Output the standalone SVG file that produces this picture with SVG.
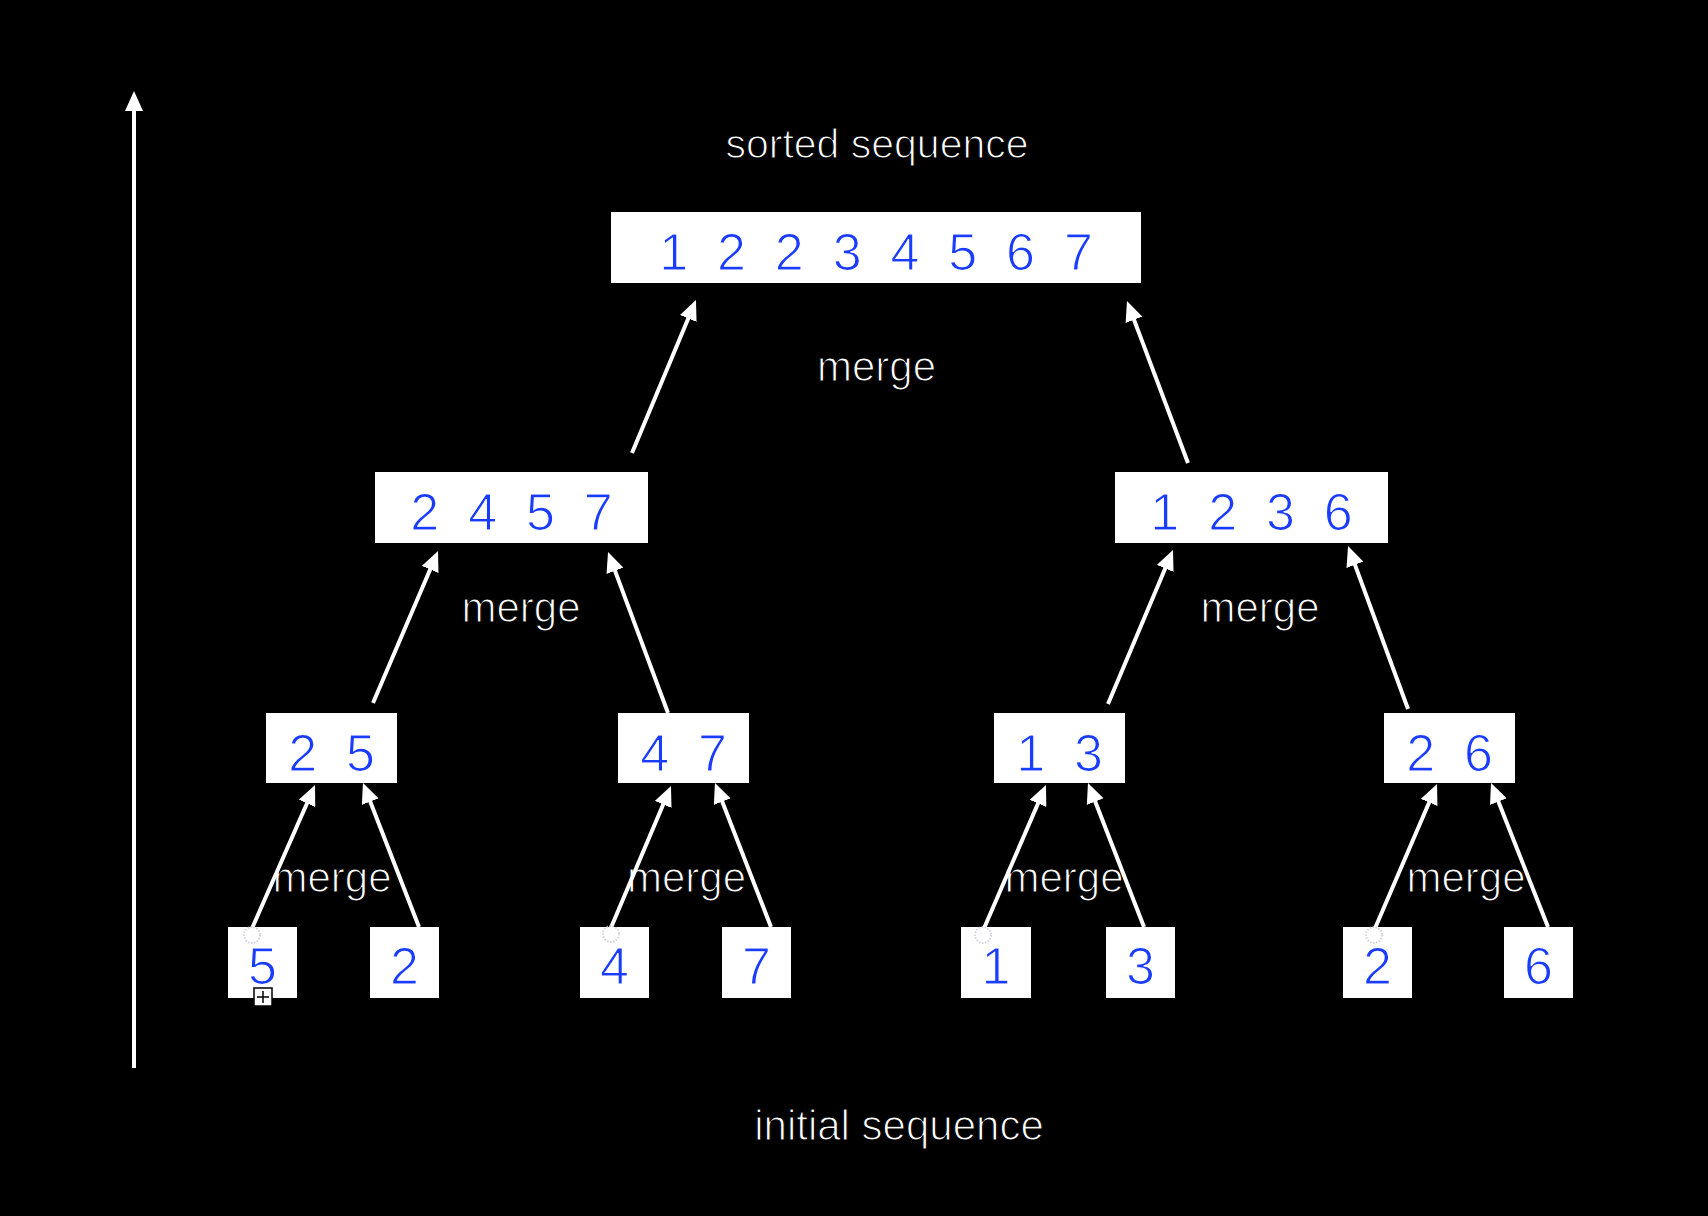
<svg xmlns="http://www.w3.org/2000/svg" width="1708" height="1216" viewBox="0 0 1708 1216">
<style>
.box{fill:#ffffff}
.num{font-family:"Liberation Sans",Arial,sans-serif;font-size:52px;fill:#1a3cff;text-anchor:middle;white-space:pre;stroke:#ffffff;stroke-width:1.2}
.lbl{font-family:"Liberation Sans",Arial,sans-serif;font-size:42px;fill:#ffffff;text-anchor:middle;stroke:#000000;stroke-width:1.2}
.conn line{stroke:#ffffff;stroke-width:4;fill:none;marker-end:url(#ah)}
.touch{fill:none;stroke:#c8c8d8;stroke-width:2;stroke-dasharray:1.5 1.5;opacity:0.8}
</style>
<defs>
<marker id="ah" markerUnits="userSpaceOnUse" viewBox="0 0 20 18" refX="10" refY="9" markerWidth="20" markerHeight="18" orient="auto">
<path d="M0,0 L20,9 L0,18 z" fill="#ffffff"/>
</marker>
</defs>
<rect x="0" y="0" width="1708" height="1216" fill="#000000"/>

<text class="lbl" x="877" y="158" style="font-size:41px">sorted sequence</text>
<text class="lbl" x="899" y="1140">initial sequence</text>

<g id="top">
<rect class="box" x="611" y="212" width="530" height="71"/>
<text class="num" x="876" y="270">1  2  2  3  4  5  6  7</text>
</g>
<g id="n2457">
<rect class="box" x="375" y="472" width="273" height="71"/>
<text class="num" x="511.5" y="530">2  4  5  7</text>
</g>
<g id="n1236">
<rect class="box" x="1115" y="472" width="273" height="71"/>
<text class="num" x="1251.5" y="530">1  2  3  6</text>
</g>
<g id="n25">
<rect class="box" x="266" y="713" width="131" height="70"/>
<text class="num" x="331.5" y="771">2  5</text>
</g>
<g id="n47">
<rect class="box" x="618" y="713" width="131" height="70"/>
<text class="num" x="683.5" y="771">4  7</text>
</g>
<g id="n13">
<rect class="box" x="994" y="713" width="131" height="70"/>
<text class="num" x="1059.5" y="771">1  3</text>
</g>
<g id="n26">
<rect class="box" x="1384" y="713" width="131" height="70"/>
<text class="num" x="1449.5" y="771">2  6</text>
</g>
<g id="leaf5">
<rect class="box" x="228" y="927" width="69" height="71"/>
<text class="num" x="262.5" y="984">5</text>
</g>
<g id="leaf2a">
<rect class="box" x="370" y="927" width="69" height="71"/>
<text class="num" x="404.5" y="984">2</text>
</g>
<g id="leaf4">
<rect class="box" x="580" y="927" width="69" height="71"/>
<text class="num" x="614.5" y="984">4</text>
</g>
<g id="leaf7">
<rect class="box" x="722" y="927" width="69" height="71"/>
<text class="num" x="756.5" y="984">7</text>
</g>
<g id="leaf1">
<rect class="box" x="961" y="927" width="70" height="71"/>
<text class="num" x="996" y="984">1</text>
</g>
<g id="leaf3">
<rect class="box" x="1106" y="927" width="69" height="71"/>
<text class="num" x="1140.5" y="984">3</text>
</g>
<g id="leaf2b">
<rect class="box" x="1343" y="927" width="69" height="71"/>
<text class="num" x="1377.5" y="984">2</text>
</g>
<g id="leaf6">
<rect class="box" x="1504" y="927" width="69" height="71"/>
<text class="num" x="1538.5" y="984">6</text>
</g>

<g id="labels">
<text class="lbl" x="876.5" y="381">merge</text>
<text class="lbl" x="521" y="622">merge</text>
<text class="lbl" x="1260" y="622">merge</text>
<text class="lbl" x="332" y="892">merge</text>
<text class="lbl" x="686.5" y="892">merge</text>
<text class="lbl" x="1064" y="892">merge</text>
<text class="lbl" x="1466" y="892">merge</text>
</g>

<g id="connectors" class="conn">
<line x1="134" y1="1068" x2="134" y2="101"/>
<line x1="250" y1="933" x2="311" y2="794.2"/>
<line x1="419" y1="927" x2="366.6" y2="792.3"/>
<line x1="610" y1="930" x2="667.1" y2="795.2"/>
<line x1="771" y1="927" x2="718.6" y2="792.3"/>
<line x1="982" y1="933" x2="1042" y2="794.2"/>
<line x1="1144" y1="927" x2="1091.6" y2="792.3"/>
<line x1="1373" y1="933" x2="1433.1" y2="793.2"/>
<line x1="1548" y1="927" x2="1494.7" y2="792.3"/>
<line x1="373" y1="703" x2="434.1" y2="560.2"/>
<line x1="668" y1="713" x2="611.5" y2="561.4"/>
<line x1="1108" y1="704" x2="1169.1" y2="559.2"/>
<line x1="1408" y1="709" x2="1351.5" y2="555.4"/>
<line x1="632" y1="453" x2="692.1" y2="309.2"/>
<line x1="1188" y1="463" x2="1130.5" y2="310.4"/>
</g>

<g id="marks">
<circle class="touch" cx="252" cy="935" r="8"/>
<circle class="touch" cx="611" cy="934" r="8"/>
<circle class="touch" cx="983" cy="935" r="8"/>
<circle class="touch" cx="1374" cy="935" r="8"/>
<rect x="254" y="988" width="18" height="18" fill="#ffffff" stroke="#000000" stroke-width="1.5"/>
<path d="M263,991 V1003 M257,997 H269" stroke="#000000" stroke-width="1.5" fill="none"/>
</g>
</svg>
